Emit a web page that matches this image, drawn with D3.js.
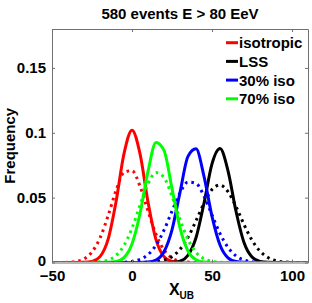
<!DOCTYPE html>
<html>
<head>
<meta charset="utf-8">
<script src="https://cdn.jsdelivr.net/npm/d3@7"></script>
<style>
  body { margin: 0; background: #fff; }
  text { font-family: "Liberation Sans", Arial, sans-serif; font-weight: bold; }
</style>
</head>
<body>
<script>
var xValues = [-50,-45,-40,-35,-30,-25,-20,-15,-10,-5,0,5,10,15,20,25,30,35,40,45,50,55,60,65,70,75,80,85,90,95,100,105,110];

var isoSolid = [0,0,0,0,0.0001,0.0008,0.0045,0.0176,0.0467,0.0839,0.102,0.0839,0.0467,0.0176,0.0045,0.0008,0.0001,
  0,0,0,0,0,0,0,0,0,0,0,0,0,0,0,0];
var isoDotted = [0,0,0.0002,0.0008,0.0028,0.0081,0.0189,0.0358,0.0553,0.0694,0.0708,0.0588,0.0397,0.0218,0.0097,0.0035,0.0010,0.0003,
  0,0,0,0,0,0,0,0,0,0,0,0,0,0,0];
var lssSolid = [0,0,0,0,0,0,0,0,0,0,0,0,0,0,0,
  0.0002,0.0011,0.0056,0.0191,0.0457,0.0760,0.0878,0.0707,0.0395,0.0154,0.0042,0.0008,0.0001,
  0,0,0,0,0];
var lssDotted = [0,0,0,0,0,0,0,0,0,0,0,0,
  0.0002,0.0006,0.0018,0.0045,0.0101,0.0194,0.0321,0.0457,0.0562,0.0597,0.0546,0.0431,0.0293,0.0172,0.0087,0.0038,0.0014,0.0005,0.0001,
  0,0];
var iso30Solid = [0,0,0,0,0,0,0,0,0,0,0,0,
  0.0003,0.0019,0.0083,0.0252,0.0540,0.0818,0.0876,0.0664,0.0356,0.0135,0.0036,0.0007,0.0001,
  0,0,0,0,0,0,0,0];
var iso30Dotted = [0,0,0,0,0,0,0,0,0,
  0.0002,0.0008,0.0024,0.0061,0.0133,0.0249,0.0396,0.0537,0.0620,0.0610,0.0512,0.0366,0.0223,0.0116,0.0051,0.0019,0.0006,0.0002,
  0,0,0,0,0,0];
var iso70Solid = [0,0,0,0,0,0,0,
  0.0001,0.0007,0.0038,0.0143,0.0376,0.0702,0.0926,0.0864,0.0570,0.0266,0.0088,0.0021,0.0003,
  0,0,0,0,0,0,0,0,0,0,0,0,0];
var iso70Dotted = [0,0,0,0,0,
  0.0001,0.0005,0.0018,0.0054,0.0131,0.0264,0.0441,0.0607,0.0693,0.0655,0.0512,0.0332,0.0178,0.0079,0.0029,0.0009,0.0002,
  0,0,0,0,0,0,0,0,0,0,0];

var legendNames = ['isotropic', 'LSS', '30% iso', '70% iso'];
var legendColors = ['#ff0000', '#000000', '#0000ff', '#00ff00'];
var xTicks = [-50, 0, 50, 100];
var yTicks = [0, 0.05, 0.1, 0.15];

var series = [
  {values: isoSolid, color: legendColors[0], dotted: false},
  {values: isoDotted, color: legendColors[0], dotted: true},
  {values: lssSolid, color: legendColors[1], dotted: false},
  {values: lssDotted, color: legendColors[1], dotted: true},
  {values: iso30Solid, color: legendColors[2], dotted: false},
  {values: iso30Dotted, color: legendColors[2], dotted: true},
  {values: iso70Solid, color: legendColors[3], dotted: false},
  {values: iso70Dotted, color: legendColors[3], dotted: true}
];

var screen = {width: 312, height: 303};
var margins = {left: 52, right: 4, top: 29, bottom: 40.5};
var w = screen.width - margins.left - margins.right;
var h = screen.height - margins.top - margins.bottom;

var svg = d3.select('body').append('svg')
  .attr('width', screen.width)
  .attr('height', screen.height);

var xScale = d3.scaleLinear().domain([-50, 110]).range([0, w]);
var yScale = d3.scaleLinear().domain([0, 0.18]).range([h, 0]);

var plot = svg.append('g')
  .attr('transform', 'translate(' + margins.left + ',' + margins.top + ')');

plot.append('clipPath').attr('id', 'clip')
  .append('rect').attr('x', 0).attr('y', -2).attr('width', w).attr('height', h + 1);

var line = d3.line()
  .x(function(d, i){ return xScale(xValues[i]); })
  .y(function(d){ return yScale(d); })
  .curve(d3.curveMonotoneX);

var curves = plot.append('g').attr('clip-path', 'url(#clip)');
series.forEach(function(s){
  curves.append('path')
    .attr('d', line(s.values))
    .attr('fill', 'none')
    .attr('stroke', s.color)
    .attr('stroke-width', 3)
    .attr('stroke-dasharray', s.dotted ? '2.6,4' : null);
});

// axes, ticks inward on all four sides
var axisColor = '#707070';
plot.append('g').attr('transform', 'translate(0,' + h + ')')
  .call(d3.axisBottom(xScale).tickValues(xTicks).tickSizeInner(-3).tickSizeOuter(0).tickPadding(8));
plot.append('g')
  .call(d3.axisTop(xScale).tickValues(xTicks).tickSizeInner(-3).tickSizeOuter(0).tickFormat(''));
var yAxis = plot.append('g')
  .call(d3.axisLeft(yScale).tickValues(yTicks).tickSizeInner(-3).tickSizeOuter(0).tickPadding(6)
    .tickFormat(function(d){ return d === 0 ? '0' : String(d); }));
plot.append('g').attr('transform', 'translate(' + w + ',0)')
  .call(d3.axisRight(yScale).tickValues(yTicks).tickSizeInner(-3).tickSizeOuter(0).tickFormat(''));

plot.selectAll('.domain').attr('stroke', axisColor);
plot.selectAll('.tick line').attr('stroke', axisColor);
plot.selectAll('.tick text')
  .attr('fill', '#000')
  .attr('font-size', 15)
  .attr('font-family', '"Liberation Sans", Arial, sans-serif')
  .attr('font-weight', 'bold');
// lift the "0" label a little so it clears the "-50" below it
yAxis.selectAll('.tick text').filter(function(d){ return d === 0; }).attr('y', -2);

// title
svg.append('text')
  .attr('x', margins.left + w / 2)
  .attr('y', 19)
  .attr('text-anchor', 'middle')
  .attr('font-size', 15)
  .text('580 events E > 80 EeV');

// x label with subscript
var xl = svg.append('text')
  .attr('x', margins.left + w / 2 + 1.5)
  .attr('y', 295)
  .attr('font-size', 16)
  .attr('text-anchor', 'middle');
xl.append('tspan').text('X');
xl.append('tspan').attr('font-size', 10).attr('dy', 4).text('UB');

// y label
svg.append('text')
  .attr('transform', 'translate(15,' + (margins.top + h / 2) + ') rotate(-90)')
  .attr('text-anchor', 'middle')
  .attr('font-size', 15)
  .text('Frequency');

// legend
var legend = svg.append('g').attr('transform', 'translate(226,42.7)');
legendNames.forEach(function(name, i){
  var g = legend.append('g').attr('transform', 'translate(0,' + (i * 18.7) + ')');
  g.append('line')
    .attr('x1', 0).attr('x2', 12)
    .attr('y1', 0).attr('y2', 0)
    .attr('stroke', legendColors[i])
    .attr('stroke-width', 3);
  g.append('text')
    .attr('x', 13)
    .attr('y', 5.5)
    .attr('font-size', 15)
    .text(name);
});
</script>
</body>
</html>
